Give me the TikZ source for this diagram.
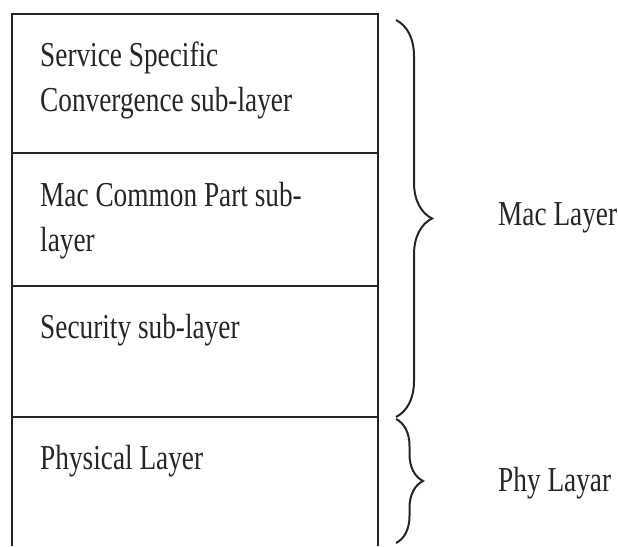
\documentclass[tikz,border=0pt]{standalone}
\usepackage{fontspec}
\setmainfont[FakeStretch=0.78]{Liberation Serif}
\usetikzlibrary{decorations.pathreplacing}
\begin{document}
\begin{tikzpicture}[x=1pt,y=-1pt,
  frame/.style={line width=2pt,draw=black!85},
  lbl/.style={anchor=north west,inner sep=0pt,align=left,font=\fontsize{35}{45}\selectfont,text=black!85},
  bracestyle/.style={line width=2pt,draw=black!85,decorate,decoration={brace,amplitude=#1,aspect=0.5}}]
\useasboundingbox (0,0) rectangle (618,546);
\draw[frame] (12,546) -- (12,14) -- (378,14) -- (378,546);
\draw[frame] (12,153) -- (378,153);
\draw[frame] (12,286) -- (378,286);
\draw[frame] (12,417) -- (378,417);
\node[lbl] (ss) at (40,42) {Service Specific\\Convergence sub-layer};
\node[lbl] (mcp) at (40,182) {Mac Common Part sub-\\layer};
\node[lbl] (sec) at (40,314) {Security sub-layer};
\node[lbl] (phy) at (40,445) {Physical Layer};
\node[lbl] (mac) at (498,202) {Mac Layer};
\node[lbl] (phyl) at (498,467) {Phy Layar};
\coordinate (m1) at (396,20);
\coordinate (m2) at (396,417);
\coordinate (p1) at (396,419);
\coordinate (p2) at (396,543);
\draw[bracestyle=36] (m1) -- (m2);
\draw[bracestyle=27] (p1) -- (p2);
\end{tikzpicture}
\end{document}
